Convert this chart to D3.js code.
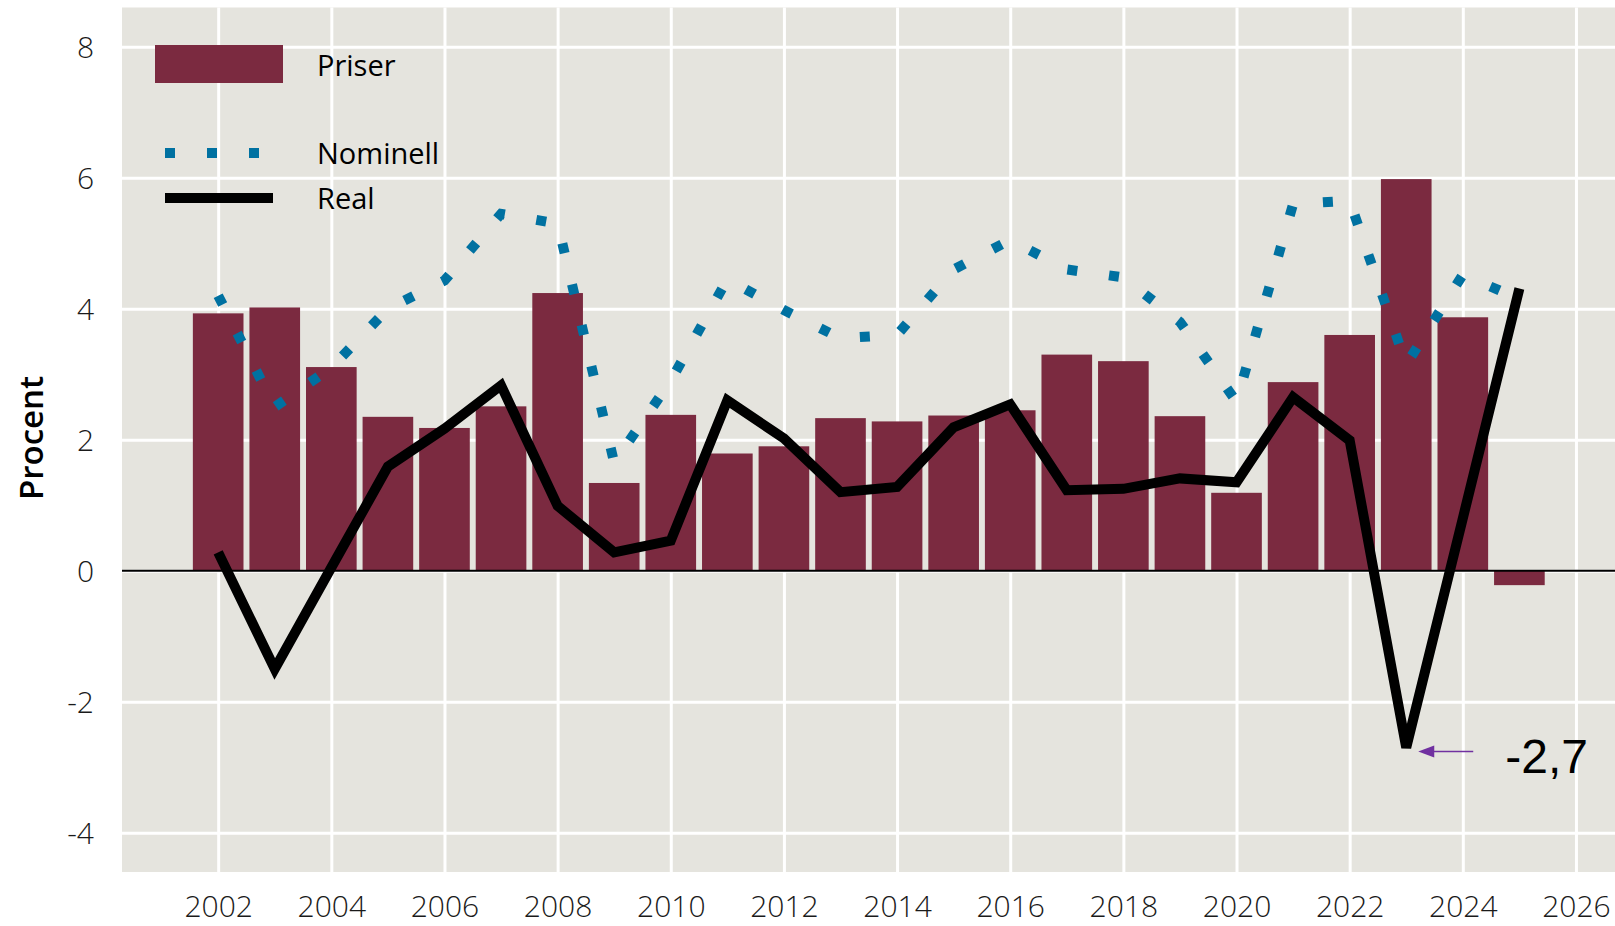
<!DOCTYPE html>
<html>
<head>
<meta charset="utf-8">
<script src="https://cdn.jsdelivr.net/npm/d3@7"></script>
<style>
  html, body { margin: 0; padding: 0; background: #ffffff; }
  .tick text { font-family: "Open Sans", "Noto Sans", sans-serif; font-weight: 300; font-size: 30px; fill: #1a1a1a; }
  .legend text { font-family: "Open Sans", "Noto Sans", sans-serif; font-size: 29px; fill: #000; }
</style>
</head>
<body>
<svg id="chart"></svg>
<script>
// Data
const years = [2002, 2003, 2004, 2005, 2006, 2007, 2008, 2009, 2010, 2011, 2012, 2013,
               2014, 2015, 2016, 2017, 2018, 2019, 2020, 2021, 2022, 2023, 2024, 2025];
const priser = [3.93, 4.02, 3.11, 2.35, 2.18, 2.51, 4.24, 1.34, 2.38, 1.79, 1.90, 2.33,
                2.28, 2.37, 2.45, 3.30, 3.20, 2.36, 1.19, 2.88, 3.60, 5.98, 3.87, -0.22];
const nominell = [4.2, 2.5, 3.1, 4.0, 4.43, 5.45, 5.3, 1.65, 2.9, 4.45, 3.98, 3.55,
                  3.6, 4.6, 5.05, 4.6, 4.48, 3.8, 2.58, 5.6, 5.65, 3.15, 4.52, 4.15];
const real = [0.28, -1.5, 0.05, 1.59, 2.17, 2.83, 0.99, 0.28, 0.46, 2.6, 2.02, 1.2,
              1.28, 2.19, 2.54, 1.23, 1.25, 1.41, 1.35, 2.65, 1.99, -2.7, 0.8, 4.31];
const xTicks = [2002, 2004, 2006, 2008, 2010, 2012, 2014, 2016, 2018, 2020, 2022, 2024, 2026];
const yTicks = [-4, -2, 0, 2, 4, 6, 8];
const legendLabels = ["Priser", "Nominell", "Real"];
const annotation = { year: 2023, value: -2.7, label: "-2,7" };

// Colours
const bg = "#e5e4de", barColor = "#7b2a40", blue = "#0071a1", purple = "#7030a0";

// Dimensions and margins
let margin = {top: 7.5, right: 0, bottom: 54, left: 122},
    width = 1615 - margin.left - margin.right,
    height = 926 - margin.top - margin.bottom;

let svg = d3.select("#chart")
    .attr("width", width + margin.left + margin.right)
    .attr("height", height + margin.top + margin.bottom)
  .append("g")
    .attr("transform", "translate(" + margin.left + "," + margin.top + ")");

// Scales
let x = d3.scaleLinear().domain([2000.3, 2026.69]).range([0, width]);
let y = d3.scaleLinear().domain([-4.6, 8.6]).range([height, 0]);
let barW = x(2000.3 + 0.895) - x(2000.3);

// Plot background
svg.append("rect")
    .attr("width", width)
    .attr("height", height)
    .attr("fill", bg);

// Grid lines
svg.append("g")
    .attr("class", "grid")
    .call(d3.axisBottom(x).tickValues(xTicks).tickSize(height).tickFormat(""))
    .call(g => g.select(".domain").remove())
    .call(g => g.selectAll("line").attr("stroke", "#fff").attr("stroke-width", 3));
svg.append("g")
    .attr("class", "grid")
    .call(d3.axisLeft(y).tickValues(yTicks).tickSize(-width).tickFormat(""))
    .call(g => g.select(".domain").remove())
    .call(g => g.selectAll("line").attr("stroke", "#fff").attr("stroke-width", 3));

// Axis labels
svg.append("g")
    .attr("transform", "translate(0," + height + ")")
    .call(d3.axisBottom(x).tickValues(xTicks).tickSize(0).tickPadding(24).tickFormat(d3.format("d")))
    .call(g => g.select(".domain").remove());
svg.append("g")
    .call(d3.axisLeft(y).tickValues(yTicks).tickSize(0).tickPadding(28).tickFormat(d => String(d)))
    .call(g => g.select(".domain").remove())
    .call(g => g.selectAll("text").attr("dy", "0.36em"));

// Bars
svg.append("g")
  .selectAll("rect")
  .data(years)
  .join("rect")
    .attr("x", (d, i) => x(d) - barW / 2)
    .attr("width", barW)
    .attr("y", (d, i) => y(Math.max(0, priser[i])))
    .attr("height", (d, i) => Math.abs(y(priser[i]) - y(0)))
    .attr("fill", barColor);

// Zero line
svg.append("line")
    .attr("x1", 0).attr("x2", width)
    .attr("y1", y(0)).attr("y2", y(0))
    .attr("stroke", "#000").attr("stroke-width", 2);

// Nominell line (dotted squares)
let line = d3.line().x(d => x(d[0])).y(d => y(d[1]));
svg.append("path")
    .datum(years.map((d, i) => [d, nominell[i]]))
    .attr("d", line)
    .attr("fill", "none")
    .attr("stroke", blue)
    .attr("stroke-width", 10)
    .attr("stroke-dasharray", "10,32");

// Real line
svg.append("path")
    .datum(years.map((d, i) => [d, real[i]]))
    .attr("d", line)
    .attr("fill", "none")
    .attr("stroke", "#000")
    .attr("stroke-width", 10)
    .attr("stroke-linejoin", "miter");

// Annotation arrow and label
let ax = x(annotation.year), ay = y(annotation.value);
svg.append("line")
    .attr("x1", ax + 67).attr("x2", ax + 26)
    .attr("y1", ay + 4).attr("y2", ay + 4)
    .attr("stroke", purple).attr("stroke-width", 1.5);
svg.append("path")
    .attr("d", "M" + (ax + 12) + "," + (ay + 4) + " l16,-6 l0,12 z")
    .attr("fill", purple);
svg.append("text")
    .attr("x", ax + 99)
    .attr("y", ay + 25)
    .attr("font-family", "'Liberation Sans', Arial, sans-serif")
    .attr("font-size", 48)
    .attr("fill", "#000")
    .text(annotation.label);

// Y axis title
d3.select("#chart").append("text")
    .attr("transform", "translate(43,438) rotate(-90)")
    .attr("text-anchor", "middle")
    .attr("font-family", "'Open Sans', sans-serif")
    .attr("font-weight", 600)
    .attr("font-size", 33)
    .text("Procent");

// Legend
let legend = d3.select("#chart").append("g").attr("class", "legend");
legend.append("rect")
    .attr("x", 155).attr("y", 45).attr("width", 128).attr("height", 38)
    .attr("fill", barColor);
legend.append("line")
    .attr("x1", 165).attr("x2", 265).attr("y1", 153).attr("y2", 153)
    .attr("stroke", blue).attr("stroke-width", 10).attr("stroke-dasharray", "10,32");
legend.append("line")
    .attr("x1", 165).attr("x2", 273).attr("y1", 198).attr("y2", 198)
    .attr("stroke", "#000").attr("stroke-width", 10);
legend.selectAll("text")
  .data(legendLabels)
  .join("text")
    .attr("x", 317)
    .attr("y", (d, i) => [76, 164, 209][i])
    .text(d => d);
</script>
</body>
</html>
